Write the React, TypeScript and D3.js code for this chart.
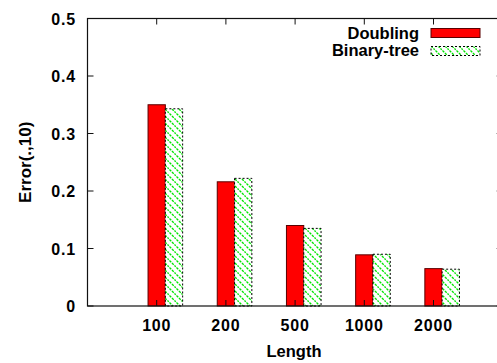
import React from "react";
import * as d3 from "d3";

// Error(.,10) against sequence length for the two methods
const categories = ["100", "200", "500", "1000", "2000"];
const doubling = [0.35, 0.216, 0.14, 0.089, 0.065];
const binaryTree = [0.343, 0.222, 0.135, 0.09, 0.064];
const yTicks = [0, 0.1, 0.2, 0.3, 0.4, 0.5];
const seriesNames = ["Doubling", "Binary-tree"];

const W = 497;
const H = 363;
const left = 87.5;
const top = 18.5;
const bottom = 306;
const unit = 69.2;
const barW = 0.25;
const font = "'Liberation Sans', Arial, Helvetica, sans-serif";

export default function App() {
  const x = d3.scaleLinear().domain([0, 6]).range([left, left + 6 * unit]);
  const y = d3.scaleLinear().domain([0, 0.5]).range([bottom, top]);
  const right = x(6);
  const tickLen = 6;

  const textStyle = {
    fontFamily: font,
    fontWeight: 700 as const,
    fontSize: 16.5,
    fill: "#000",
  };
  const tickStyle = { ...textStyle, fontSize: 16, letterSpacing: 0.8 };

  return (
    <svg
      width={W}
      height={H}
      style={{ position: "absolute", left: 0, top: 0, background: "#fff" }}
    >
      <defs>
        <pattern
          id="hatch"
          patternUnits="userSpaceOnUse"
          width={7}
          height={7}
        >
          <rect width={7} height={7} fill="#fff" />
          <path
            d="M-1,-1 L8,8 M-1,6 L1,8 M6,-1 L8,1"
            stroke="#00e600"
            strokeWidth={1.3}
            strokeDasharray="2.5,1"
          />
        </pattern>
      </defs>

      {/* bars */}
      {categories.map((c, i) => {
        const cx = i + 1;
        const r0 = x(cx - barW / 2);
        const r1 = x(cx + barW / 2);
        const g1 = x(cx + (3 * barW) / 2);
        return (
          <g key={c}>
            <rect
              x={r0}
              y={y(doubling[i])}
              width={r1 - r0}
              height={bottom - y(doubling[i])}
              fill="#ff0000"
              stroke="#5a0000"
              strokeWidth={1}
            />
            <rect
              x={r1}
              y={y(binaryTree[i])}
              width={g1 - r1}
              height={bottom - y(binaryTree[i])}
              fill="url(#hatch)"
              stroke="#000"
              strokeWidth={1}
              strokeDasharray="2,2"
            />
          </g>
        );
      })}

      {/* frame */}
      <rect
        x={left}
        y={top}
        width={right - left}
        height={bottom - top}
        fill="none"
        stroke="#111"
        strokeWidth={1.2}
      />

      {/* y ticks */}
      {yTicks.map((t) => (
        <g key={t}>
          <line x1={left} x2={left + tickLen} y1={y(t)} y2={y(t)} stroke="#111" />
          <line x1={right} x2={right - tickLen} y1={y(t)} y2={y(t)} stroke="#111" />
          <text x={76} y={y(t) + 6} textAnchor="end" style={tickStyle}>
            {d3.format("")(t)}
          </text>
        </g>
      ))}

      {/* x ticks */}
      {categories.map((c, i) => (
        <g key={c}>
          <line x1={x(i + 1)} x2={x(i + 1)} y1={bottom} y2={bottom - tickLen} stroke="#111" />
          <line x1={x(i + 1)} x2={x(i + 1)} y1={top} y2={top + tickLen} stroke="#111" />
          <text x={x(i + 1)} y={331} textAnchor="middle" style={tickStyle}>
            {c}
          </text>
        </g>
      ))}

      {/* axis titles */}
      <text x={294} y={357} textAnchor="middle" style={textStyle}>
        Length
      </text>
      <text
        transform={`translate(31,${(top + bottom) / 2}) rotate(-90)`}
        textAnchor="middle"
        style={{ ...textStyle, fontSize: 17 }}
      >
        Error(.,10)
      </text>

      {/* legend */}
      <text x={419} y={38.5} textAnchor="end" style={textStyle}>
        {seriesNames[0]}
      </text>
      <rect x={431} y={28.5} width={49} height={9} fill="#ff0000" stroke="#5a0000" />
      <text x={419} y={56} textAnchor="end" style={textStyle}>
        {seriesNames[1]}
      </text>
      <rect
        x={431}
        y={46.5}
        width={49}
        height={9}
        fill="url(#hatch)"
        stroke="#000"
        strokeDasharray="2,2"
      />
    </svg>
  );
}
